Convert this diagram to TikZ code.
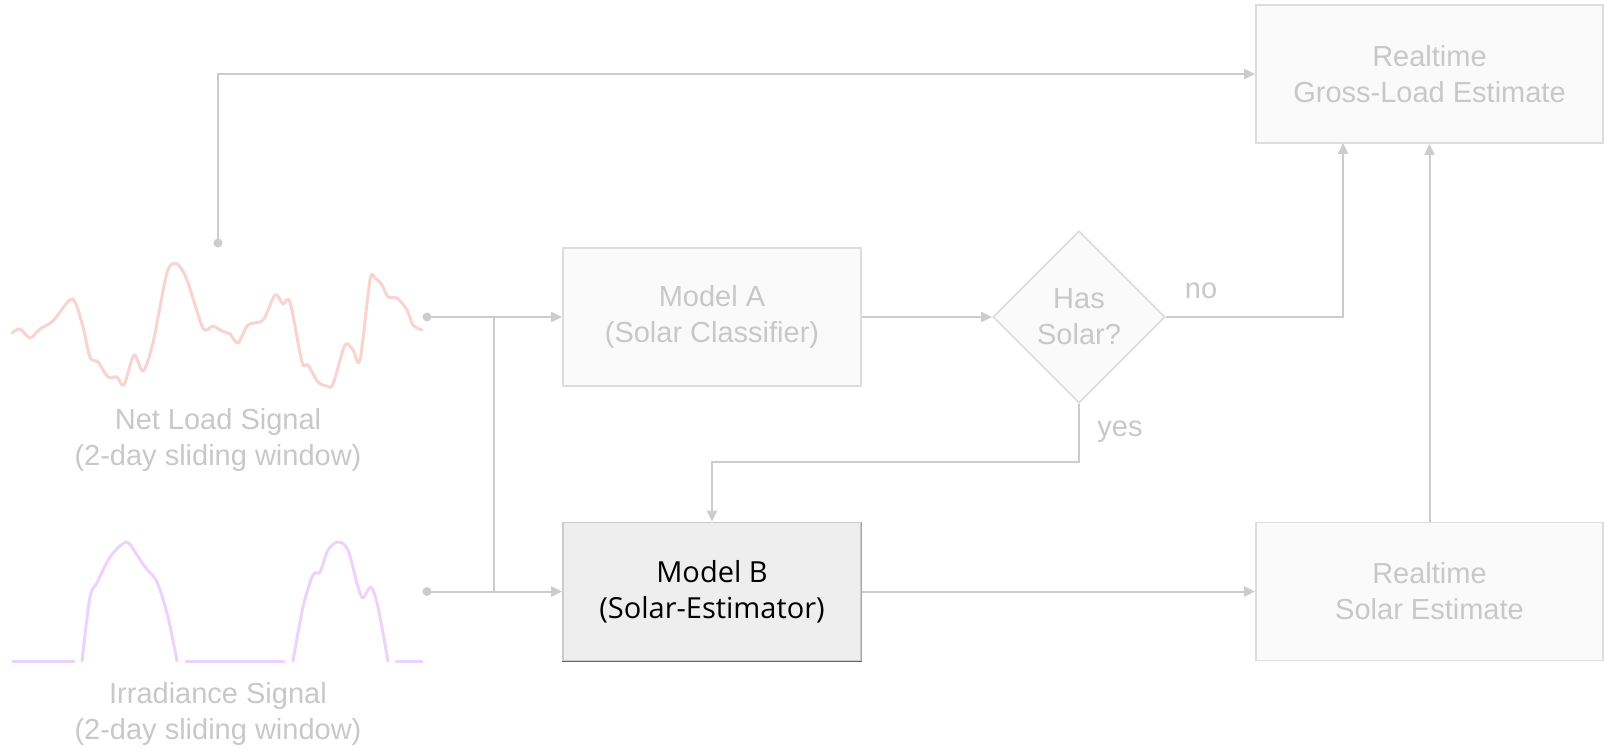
\documentclass[tikz,border=0pt]{standalone}
\usepackage{fontspec}
\setmainfont{Liberation Sans}
\newfontfamily\opensans{Open Sans}
\usetikzlibrary{shapes.geometric,arrows.meta}
\definecolor{lgrey}{HTML}{CCCCCC}
\definecolor{txtgrey}{HTML}{C8C8C8}
\definecolor{boxfill}{HTML}{FAFAFA}
\definecolor{boxline}{HTML}{DDDDDD}
\definecolor{activefill}{HTML}{EEEEEE}
\definecolor{netpink}{HTML}{F9D3CE}
\definecolor{irrpurple}{HTML}{EED2FB}
\tikzset{
  x=1pt, y=-1pt,
  box/.style={draw=boxline, fill=boxfill, line width=1.8pt, minimum width=#1, minimum height=138pt, inner sep=0pt, align=center, text=txtgrey, font=\fontsize{29}{36}\selectfont},
  box/.default=298pt,
  conn/.style={draw=lgrey, line width=2pt},
  arr/.style={conn, -{Triangle[width=10pt,length=11pt]}},
  lbl/.style={text=txtgrey, align=center, font=\fontsize{29}{36}\selectfont},
  dotc/.style={fill=lgrey, draw=none},
  sig/.style={line width=3pt, line join=round, line cap=round},
}
\begin{document}
\begin{tikzpicture}
\useasboundingbox (0,0) rectangle (1604,749);
% nodes
\node[box=347pt] (gross) at (1429.5,74) {Realtime\\Gross-Load Estimate};
\node[box] (modelA) at (712,317) {Model A\\(Solar Classifier)};
\node[box, fill=activefill, draw=lgrey, text=black, font=\opensans\fontsize{29}{36}\selectfont] (modelB) at (712,591.5) {Model B\\(Solar-Estimator)};
\draw[line width=1.8pt, draw=black!60] (modelB.south west) -- (modelB.south east);
\draw[line width=1pt, draw=black!35] (modelB.south east) -- (modelB.north east);
\node[box=347pt] (solar) at (1429.5,591.5) {Realtime\\Solar Estimate};
\node[diamond, draw=boxline, fill=boxfill, line width=1.8pt, minimum size=172pt, inner sep=0pt, align=center, text=txtgrey, font=\fontsize{29}{36}\selectfont] (dia) at (1079,317) {Has\\Solar?};
\node[lbl, anchor=center] (no) at (1201,291) {no};
\node[lbl, anchor=center] (yes) at (1120,432) {yes};
\node[lbl] (netlbl) at (218,440) {Net Load Signal\\(2-day sliding window)};
\node[lbl] (irrlbl) at (218,714) {Irradiance Signal\\(2-day sliding window)};
% signals
\draw[netpink, sig] plot[smooth, tension=0.5] coordinates {
(12,333) (20,329) (30,338) (40,329) (53,321) (72,299) (82,323) (90,357) (98,362) (108,377) (117,377) (124,385) (134,355) (143,371) (153,343) (167,273) (177,264) (187,280) (203,328) (213,326) (222,331) (230,334) (238,343) (248,325) (263,320) (275,295) (283,304) (290,302) (302,362) (308,365) (318,382) (327,386) (333,384) (345,345) (353,350) (360,360) (370,280) (375,278) (382,285) (388,297) (397,298) (407,310) (413,325) (422,330)};
\draw[irrpurple, line width=3pt] (12,661) -- (75,661);
\draw[irrpurple, sig] plot[smooth, tension=0.5] coordinates {
(82,661) (90,597) (97,583) (110,557) (126,542) (135,552) (145,567) (157,582) (168,617) (177,661)};
\draw[irrpurple, line width=3pt] (185,661) -- (285,661);
\draw[irrpurple, sig] plot[smooth, tension=0.5] coordinates {
(293,661) (303,607) (313,575) (320,572) (328,550) (338,542) (348,550) (358,587) (363,598) (371,587) (378,607) (388,661)};
\draw[irrpurple, line width=3pt] (395,661) -- (423,661);
% connector end points
\coordinate (topdot) at (218,243);
\coordinate (netdot) at (427,317);
\coordinate (irrdot) at (427,591.5);
\coordinate (branch) at (494,317);
\coordinate (branchlow) at (494,591.5);
\coordinate (grossin) at (1343,143);
\coordinate (yesturn) at (1079,462);
\fill[dotc] (topdot) circle (4.5pt);
\fill[dotc] (netdot) circle (4.5pt);
\fill[dotc] (irrdot) circle (4.5pt);
% connectors
\draw[arr] (topdot) |- (gross.west);
\draw[arr] (netdot) -- (modelA.west);
\draw[conn] (branch) -- (branchlow);
\draw[arr] (irrdot) -- (modelB.west);
\draw[arr] (modelA.east) -- (dia.west);
\draw[arr] (dia.east) -| (grossin);
\draw[arr] (solar.north) -- (gross.south);
\draw[arr] (dia.south) -- (yesturn) -| (modelB.north);
\draw[arr] (modelB.east) -- (solar.west);
\end{tikzpicture}
\end{document}
